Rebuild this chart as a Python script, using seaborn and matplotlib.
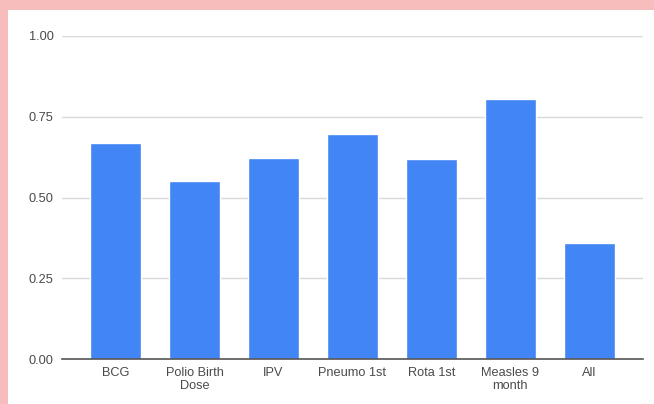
import pandas as pd
import seaborn as sns
import matplotlib.pyplot as plt
from matplotlib.patches import Rectangle

# datos del grafico
vacunas = ["BCG", "Polio Birth\nDose", "IPV", "Pneumo 1st", "Rota 1st", "Measles 9\nmonth", "All"]
valores = [0.668, 0.551, 0.623, 0.696, 0.620, 0.805, 0.358]
ticks_y = [0.0, 0.25, 0.5, 0.75, 1.0]
etiquetas_y = ["0.00", "0.25", "0.50", "0.75", "1.00"]

df = pd.DataFrame({"vacuna": vacunas, "valor": valores})

sns.set_style("white")
plt.rcParams['font.family'] = ['Liberation Sans', 'DejaVu Sans']

fig = plt.figure(figsize=(6.54, 4.04), dpi=100)
fig.patch.set_facecolor("white")
# marco rosa arriba y a la izquierda
rosa = "#f6bdbc"
fig.patches.append(Rectangle((0, (404 - 10) / 404), 1, 10 / 404, transform=fig.transFigure,
                             facecolor=rosa, edgecolor="none", zorder=-10))
fig.patches.append(Rectangle((0, 0), 8 / 654, 1, transform=fig.transFigure,
                             facecolor=rosa, edgecolor="none", zorder=-10))

ax = fig.add_axes([62 / 654, 45 / 404, (643 - 62) / 654, (359 - 36) / 404])
ax.set_facecolor("none")
sns.barplot(data=df, x="vacuna", y="valor", color="#4285f4", width=0.64, saturation=1, ax=ax, zorder=3)

ax.set_xlim(-0.68, 6.68)
ax.set_ylim(0, 1.0)
ax.set_yticks(ticks_y)
ax.set_yticklabels(etiquetas_y)
ax.yaxis.grid(True, color="#d9d9d9", linewidth=1, zorder=0)
ax.set_axisbelow(True)
ax.set_xlabel("")
ax.set_ylabel("")

for lado in ["top", "right", "left"]:
    ax.spines[lado].set_visible(False)
ax.spines["bottom"].set_color("#555555")
ax.spines["bottom"].set_linewidth(1.2)
ax.spines["bottom"].set_zorder(4)

ax.tick_params(axis="both", length=0, labelsize=9.2, labelcolor="#4a4a4a")
ax.tick_params(axis="y", pad=6)
ax.tick_params(axis="x", pad=6)
for t in ax.get_xticklabels():
    t.set_linespacing(1.1)

fig.savefig("out.png", dpi=100)
